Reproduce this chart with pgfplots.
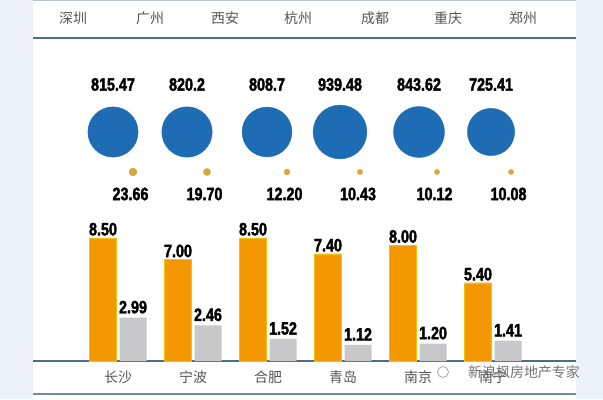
\documentclass[border=0pt]{standalone}
\usepackage{fontspec}
\usepackage{pgfplots}
\pgfplotsset{compat=1.18}
\setmainfont{Liberation Sans}
\newfontfamily\cjk{Noto Sans CJK SC}
\newfontfamily\numf[FakeStretch=0.80,FakeBold=2]{Liberation Sans Bold}
\definecolor{bg}{HTML}{EDF2F9}
\definecolor{cblue}{HTML}{1E6CB4}
\definecolor{corange}{HTML}{F39800}
\definecolor{cgray}{HTML}{C8C8CA}
\definecolor{cdot}{HTML}{DDA43C}
\definecolor{cline}{HTML}{4A6F8E}
\definecolor{ctext}{HTML}{555555}
\begin{document}
\begin{tikzpicture}[x=1bp,y=1bp]
\useasboundingbox (0,0) rectangle (603,399);
\fill[bg] (0,0) rectangle (603,399);
\fill[white] (33,0) rectangle (576,399);
% header
\draw[cline!40, line width=1bp] (33,398.5) -- (576,398.5);
\draw[cline, line width=1.5bp] (33,361) -- (576,361);
\foreach \xx/\cc in {73/深圳,150/广州,225/西安,298/杭州,375/成都,448/重庆,523/郑州}
  \node[font=\cjk\fontsize{14}{14}\selectfont, text=ctext] at (\xx,381) {\cc};
% bottom lines
\draw[cline, line width=1.5bp] (33,38) -- (576,38);
\draw[cline!80, line width=1.2bp] (33,5) -- (576,5);

% circles and dots
\begin{axis}[at={(0,0)}, anchor=south west, scale only axis, width=603bp, height=399bp,
  xmin=0, xmax=603, ymin=0, ymax=399, hide axis, clip=false]
\addplot[scatter, only marks, mark=*,
  scatter/use mapped color={draw=cblue, fill=cblue},
  visualization depends on={\thisrow{r} \as \rad},
  scatter/@pre marker code/.append style={/tikz/mark size=\rad}]
  table {
x y r
113 267 25.2
187 267 25.3
267 267 25.0
340 267 27.0
419 267 25.6
491 267 23.7
};
\addplot[scatter, only marks, mark=*,
  scatter/use mapped color={draw=cdot, fill=cdot},
  visualization depends on={\thisrow{r} \as \rad},
  scatter/@pre marker code/.append style={/tikz/mark size=\rad}]
  table {
x y r
133 227 4.0
207 227 3.6
287 227 2.9
360 227 2.7
437 227 2.6
511 227 2.6
};
\addplot[draw=none, mark=none, nodes near coords, point meta=explicit symbolic,
  nodes near coords style={anchor=center, font=\numf\fontsize{18}{18}\selectfont, text=black}]
  table[meta=lab] {
x y lab
113 314.5 815.47
187 314.5 820.2
267 314.5 808.7
340 314.5 939.48
419 314.5 843.62
491 314.5 725.41
};
\addplot[draw=none, mark=none, nodes near coords, point meta=explicit symbolic,
  nodes near coords style={anchor=center, font=\numf\fontsize{18}{18}\selectfont, text=black}]
  table[meta=lab] {
x y lab
130.5 205 23.66
204.5 205 19.70
284.5 205 12.20
358 205 10.43
434.5 205 10.12
508.5 205 10.08
};
\end{axis}

% bars
\begin{axis}[at={(80.5bp,38bp)}, anchor=south west, scale only axis,
  width=450bp, height=145bp, xmin=-0.5, xmax=5.5, ymin=0, ymax=10,
  axis line style={draw=none}, tick style={draw=none}, clip=false, ybar, bar width=27bp,
  xtick={0,...,5}, xticklabels={长沙,宁波,合肥,青岛,南京,南宁},
  ytick=\empty, major tick length=0pt,
  xticklabel style={font=\cjk\fontsize{14}{14}\selectfont, text=ctext, anchor=center, yshift=-16bp},
  /pgf/number format/.cd, fixed, fixed zerofill, precision=2, assume math mode=true,
  /pgfplots/.cd,
  nodes near coords,
  nodes near coords style={font=\numf\fontsize{18}{18}\selectfont, text=black, inner sep=2bp}]
\addplot[fill=corange, draw=corange!60!yellow, line width=0.4bp, bar shift=-15bp]
  coordinates {(0,8.50)(1,7.00)(2,8.50)(3,7.40)(4,8.00)(5,5.40)};
\addplot[fill=cgray, draw=none, bar shift=15bp, nodes near coords style={inner sep=4bp}]
  coordinates {(0,2.99)(1,2.46)(2,1.52)(3,1.12)(4,1.20)(5,1.41)};
\end{axis}

% watermark
\node[circle, draw=gray!70, line width=0.8bp, minimum size=11bp, inner sep=0pt] at (443,27) {};
\node[font=\cjk\fontsize{14}{14}\selectfont, text=gray!90!black] at (524,27) {新浪枫房地产专家};
\end{tikzpicture}
\end{document}
